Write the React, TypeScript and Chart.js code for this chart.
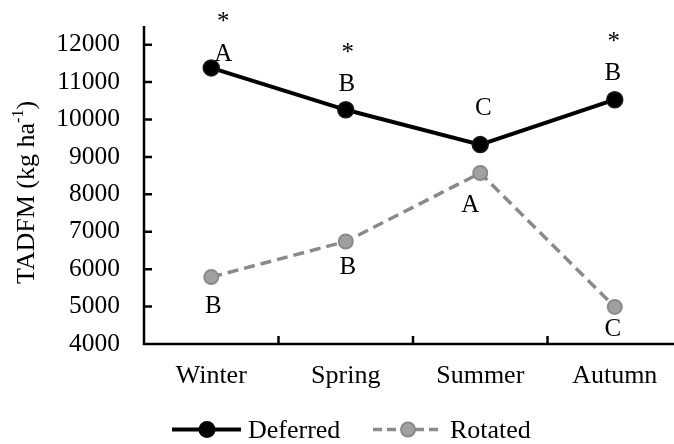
import { useEffect, useRef } from 'react';
import { Chart, registerables } from 'chart.js';

Chart.register(...registerables);

const categories = ['Winter', 'Spring', 'Summer', 'Autumn'];
const deferred = [11380, 10260, 9330, 10530];
const rotated = [5790, 6740, 8570, 4990];
const yTicks = [4000, 5000, 6000, 7000, 8000, 9000, 10000, 11000, 12000];
const deferredLetters = ['A', 'B', 'C', 'B'];
const rotatedLetters = ['B', 'B', 'A', 'C'];
const deferredStars = ['*', '*', '', '*'];
const seriesNames = ['Deferred', 'Rotated'];
const yTitleMain = 'TADFM (kg ha';
const yTitleSup = '-1';
const yTitleEnd = ')';

// label placement (offsets from the point, in px)
const deferredLetterOffset = [[12, -15], [1, -27.5], [3, -38], [-2, -27.5]];
const starOffset = [[12, -51], [2, -62], [0, 0], [-1, -62]];
const rotatedLetterOffset = [[2, 28], [2, 24], [-10, 31], [-2, 21]];

const FONT = "'Liberation Serif', 'Times New Roman', serif";
const BLACK = '#000000';
const GRAY_LINE = '#8a8a8a';
const GRAY_FILL = '#a0a0a0';

const annotPlugin = {
  id: 'annot',
  beforeDatasetsDraw(chart: any) {
    const { ctx, chartArea } = chart;
    const xs = chart.scales.x;
    const ys = chart.scales.y;
    ctx.save();
    ctx.strokeStyle = BLACK;
    ctx.lineWidth = 2.5;
    ctx.lineCap = 'butt';
    ctx.beginPath();
    ctx.moveTo(chartArea.left, chartArea.top);
    ctx.lineTo(chartArea.left, chartArea.bottom);
    ctx.moveTo(chartArea.left - 1.25, chartArea.bottom);
    ctx.lineTo(chartArea.right, chartArea.bottom);
    yTicks.forEach((v) => {
      const y = ys.getPixelForValue(v);
      ctx.moveTo(chartArea.left, y);
      ctx.lineTo(chartArea.left + 8, y);
    });
    for (let i = 0; i < categories.length - 1; i++) {
      const x = (xs.getPixelForValue(i) + xs.getPixelForValue(i + 1)) / 2;
      ctx.moveTo(x, chartArea.bottom);
      ctx.lineTo(x, chartArea.bottom - 8);
    }
    ctx.stroke();
    ctx.restore();
  },
  afterDraw(chart: any) {
    const { ctx, chartArea } = chart;
    const xs = chart.scales.x;
    const ys = chart.scales.y;
    ctx.save();
    ctx.fillStyle = BLACK;
    ctx.textAlign = 'center';
    ctx.textBaseline = 'alphabetic';
    const size = 25;
    ctx.font = `${size}px ${FONT}`;
    const capHalf = 0.662 * size / 2;
    categories.forEach((_, i) => {
      const px = xs.getPixelForValue(i);
      const pyD = ys.getPixelForValue(deferred[i]);
      const pyR = ys.getPixelForValue(rotated[i]);
      const [dx, dy] = deferredLetterOffset[i];
      ctx.fillText(deferredLetters[i], px + dx, pyD + dy + capHalf);
      const [rx, ry] = rotatedLetterOffset[i];
      ctx.fillText(rotatedLetters[i], px + rx, pyR + ry + capHalf);
      if (deferredStars[i]) {
        const [sx, sy] = starOffset[i];
        ctx.fillText(deferredStars[i], px + sx, pyD + sy + 0.47 * size);
      }
    });

    // y-axis title with superscript
    const tSize = 26;
    const supSize = 16;
    ctx.font = `${tSize}px ${FONT}`;
    const w1 = ctx.measureText(yTitleMain).width;
    const w3 = ctx.measureText(yTitleEnd).width;
    ctx.font = `${supSize}px ${FONT}`;
    const w2 = ctx.measureText(yTitleSup).width;
    const total = w1 + w2 + w3;
    ctx.translate(27, (chartArea.top + chartArea.bottom) / 2 + 7.5);
    ctx.rotate(-Math.PI / 2);
    ctx.textAlign = 'left';
    ctx.textBaseline = 'middle';
    let x0 = -total / 2;
    ctx.font = `${tSize}px ${FONT}`;
    ctx.fillText(yTitleMain, x0, 0);
    x0 += w1;
    ctx.font = `${supSize}px ${FONT}`;
    ctx.fillText(yTitleSup, x0, -8);
    x0 += w2;
    ctx.font = `${tSize}px ${FONT}`;
    ctx.fillText(yTitleEnd, x0, 0);
    ctx.restore();

    // legend
    ctx.save();
    const ly = 429.5;
    ctx.lineCap = 'butt';
    ctx.strokeStyle = BLACK;
    ctx.lineWidth = 4;
    ctx.beginPath();
    ctx.moveTo(172, ly);
    ctx.lineTo(241, ly);
    ctx.stroke();
    ctx.fillStyle = BLACK;
    ctx.beginPath();
    ctx.arc(207, ly, 8.5, 0, Math.PI * 2);
    ctx.fill();
    ctx.strokeStyle = GRAY_LINE;
    ctx.lineWidth = 3.5;
    ctx.setLineDash([9, 5]);
    ctx.beginPath();
    ctx.moveTo(373, ly);
    ctx.lineTo(443, ly);
    ctx.stroke();
    ctx.setLineDash([]);
    ctx.fillStyle = GRAY_FILL;
    ctx.strokeStyle = GRAY_LINE;
    ctx.lineWidth = 2;
    ctx.beginPath();
    ctx.arc(408, ly, 7, 0, Math.PI * 2);
    ctx.fill();
    ctx.stroke();
    ctx.fillStyle = BLACK;
    ctx.font = `26px ${FONT}`;
    ctx.textAlign = 'left';
    ctx.textBaseline = 'alphabetic';
    ctx.fillText(seriesNames[0], 248, 438);
    ctx.fillText(seriesNames[1], 450, 438);
    ctx.restore();
  },
};

export default function App() {
  const ref = useRef<HTMLCanvasElement>(null);
  useEffect(() => {
    if (!ref.current) return;
    const chart = new Chart(ref.current, {
      type: 'line',
      data: {
        labels: categories,
        datasets: [
          {
            label: seriesNames[0],
            data: deferred,
            borderColor: BLACK,
            borderWidth: 4,
            pointRadius: 8,
            pointBackgroundColor: BLACK,
            pointBorderColor: '#1a1a1a',
            pointBorderWidth: 1.5,
            tension: 0,
          },
          {
            label: seriesNames[1],
            data: rotated,
            borderColor: GRAY_LINE,
            borderWidth: 3.5,
            borderDash: [11, 6],
            pointRadius: 7,
            pointBackgroundColor: GRAY_FILL,
            pointBorderColor: GRAY_LINE,
            pointBorderWidth: 2,
            tension: 0,
          },
        ],
      },
      options: {
        animation: false,
        responsive: false,
        devicePixelRatio: 1,
        layout: { padding: { top: 26, right: 18, left: 0, bottom: 0 } },
        plugins: { legend: { display: false }, tooltip: { enabled: false } },
        scales: {
          x: {
            type: 'category',
            offset: true,
            grid: { display: false, drawTicks: false },
            border: { display: false },
            ticks: { color: BLACK, font: { family: FONT, size: 26 }, padding: 17, maxRotation: 0 },
            afterFit: (s: any) => { s.height = 100; s.paddingLeft = 0; s.paddingRight = 0; },
          },
          y: {
            min: 4000,
            max: 12500,
            grid: { display: false, drawTicks: false },
            border: { display: false },
            ticks: {
              color: BLACK,
              font: { family: FONT, size: 25.5 },
              padding: 24,
              callback: (v: any) => String(v),
            },
            afterBuildTicks: (s: any) => { s.ticks = yTicks.map((v) => ({ value: v })); },
            afterFit: (s: any) => { s.width = 144; s.paddingTop = 0; s.paddingBottom = 0; },
          },
        },
      },
      plugins: [annotPlugin],
    });
    return () => chart.destroy();
  }, []);
  return (
    <div style={{ position: 'fixed', left: 0, top: 0, width: 674, height: 444, overflow: 'hidden', background: '#fff' }}>
      <canvas ref={ref} width={700} height={444} style={{ display: 'block', width: 700, height: 444 }} />
    </div>
  );
}
